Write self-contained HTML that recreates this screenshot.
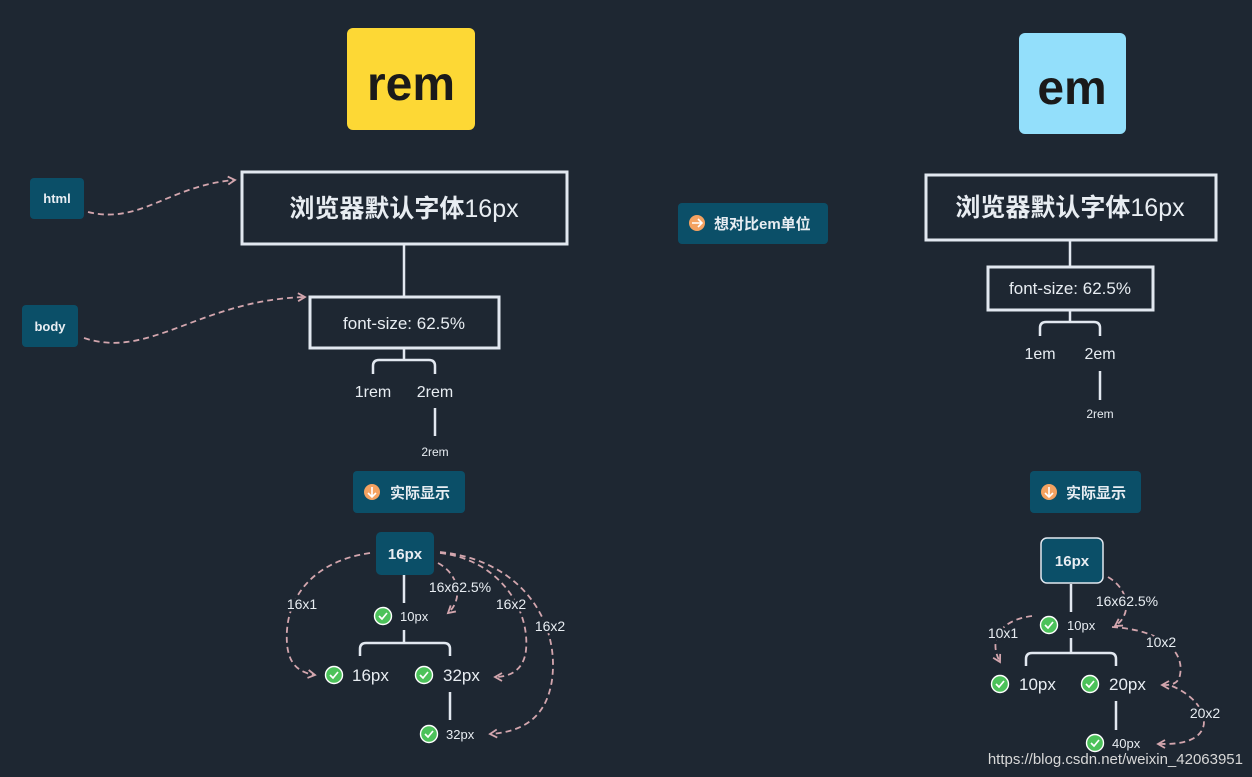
<!DOCTYPE html>
<html><head><meta charset="utf-8"><style>
html,body{margin:0;padding:0;background:#1e2732;}
svg{display:block}
text{font-family:"Liberation Sans","Noto Sans CJK SC",sans-serif;fill:#e8edf2}
.lb{paint-order:stroke;stroke:#1e2732;stroke-width:5px;stroke-linejoin:round}
.d{fill:none;stroke:#d3a6ae;stroke-width:1.8;stroke-dasharray:6 4}
.l{fill:none;stroke:#e2e8f0;stroke-width:2.5}
.b{fill:none;stroke:#e2e8f0;stroke-width:3}
</style></head><body>
<svg width="1252" height="777" viewBox="0 0 1252 777">
<defs>
<marker id="a" markerWidth="10" markerHeight="10" refX="8" refY="5" orient="auto" markerUnits="userSpaceOnUse"><path d="M1,1 L8,5 L1,9" fill="none" stroke="#d3a6ae" stroke-width="1.8"/></marker>
<g id="ck"><circle r="8.5" fill="#4cc25a" stroke="#fff" stroke-width="1.4"/><path d="M-4,0 L-1,3 L4,-3" fill="none" stroke="#fff" stroke-width="1.7"/></g>
</defs>
<rect width="1252" height="777" fill="#1e2732"/>
<rect x="347" y="28" width="128" height="102" rx="6" fill="#fdd835"/>
<text x="411" y="100" text-anchor="middle" font-size="48" font-weight="bold" style="fill:#1a1a1a">rem</text>
<rect x="1019" y="33" width="107" height="101" rx="6" fill="#93dffb"/>
<text x="1072" y="104" text-anchor="middle" font-size="48" font-weight="bold" style="fill:#1a1a1a">em</text>
<rect x="30" y="178" width="54" height="41" rx="4" fill="#0b4f68"/>
<text x="57" y="203" text-anchor="middle" font-size="13" font-weight="bold">html</text>
<rect x="22" y="305" width="56" height="42" rx="4" fill="#0b4f68"/>
<text x="50" y="331" text-anchor="middle" font-size="13" font-weight="bold">body</text>
<path class="d" d="M88,212 C140,225 170,185 235,180" marker-end="url(#a)"/>
<path class="d" d="M84,338 C150,360 200,300 305,297" marker-end="url(#a)"/>
<rect x="242" y="172" width="325" height="72" class="b"/>
<text x="404" y="217" text-anchor="middle" font-size="25"><tspan font-weight="bold">浏览器默认字体</tspan>16px</text>
<line class="l" x1="404" y1="245" x2="404" y2="297"/>
<rect x="310" y="297" width="189" height="51" class="b"/>
<text x="404" y="329" text-anchor="middle" font-size="17">font-size: 62.5%</text>
<line class="l" x1="404" y1="348" x2="404" y2="360"/>
<path class="l" d="M373,374 V366 Q373,360 379,360 H429 Q435,360 435,366 V374"/>
<text x="373" y="397" text-anchor="middle" font-size="16">1rem</text>
<text x="435" y="397" text-anchor="middle" font-size="16">2rem</text>
<line class="l" x1="435" y1="408" x2="435" y2="436"/>
<text x="435" y="456" text-anchor="middle" font-size="12">2rem</text>
<rect x="353" y="471" width="112" height="42" rx="4" fill="#0b4f68"/>
<circle cx="372" cy="492" r="8" fill="#f4a261"/><path d="M372,487 V497 M368,493 L372,497 L376,493" stroke="#fff" stroke-width="1.6" fill="none"/>
<text x="390" y="498" font-size="15" font-weight="bold">实际显示</text>
<rect x="376" y="532" width="58" height="43" rx="5" fill="#0b4f68"/>
<text x="405" y="559" text-anchor="middle" font-size="15" font-weight="bold">16px</text>
<line class="l" x1="404" y1="575" x2="404" y2="603"/>
<use href="#ck" x="383" y="616"/><text x="400" y="621" font-size="13">10px</text>
<line class="l" x1="404" y1="630" x2="404" y2="643"/>
<path class="l" d="M360,656 V649 Q360,643 366,643 H444 Q450,643 450,649 V656"/>
<use href="#ck" x="334" y="675"/><text x="352" y="681" font-size="17">16px</text>
<use href="#ck" x="424" y="675"/><text x="443" y="681" font-size="17">32px</text>
<line class="l" x1="450" y1="692" x2="450" y2="720"/>
<use href="#ck" x="429" y="734"/><text x="446" y="739" font-size="13">32px</text>
<path class="d" d="M370,553 C320,560 290,590 287,630 C285,660 295,672 315,675" marker-end="url(#a)"/>
<path class="d" d="M438,563 C460,575 463,600 448,613" marker-end="url(#a)"/>
<path class="d" d="M440,553 C500,560 530,610 526,650 C524,670 510,677 495,677" marker-end="url(#a)"/>
<path class="d" d="M440,552 C520,560 560,620 552,680 C546,720 520,732 490,734" marker-end="url(#a)"/>
<text class="lb" x="302" y="609" text-anchor="middle" font-size="14">16x1</text>
<text class="lb" x="460" y="592" text-anchor="middle" font-size="14">16x62.5%</text>
<text class="lb" x="511" y="609" text-anchor="middle" font-size="14">16x2</text>
<text class="lb" x="550" y="631" text-anchor="middle" font-size="14">16x2</text>
<rect x="678" y="203" width="150" height="41" rx="4" fill="#0b4f68"/>
<circle cx="697" cy="223" r="8" fill="#f4a261"/><path d="M692,223 H701 M698,219 L702,223 L698,227" stroke="#fff" stroke-width="1.6" fill="none"/>
<text x="714" y="229" font-size="15" font-weight="bold">想对比em单位</text>
<rect x="926" y="175" width="290" height="65" class="b"/>
<text x="1070" y="216" text-anchor="middle" font-size="25"><tspan font-weight="bold">浏览器默认字体</tspan>16px</text>
<line class="l" x1="1070" y1="241" x2="1070" y2="267"/>
<rect x="988" y="267" width="165" height="43" class="b"/>
<text x="1070" y="294" text-anchor="middle" font-size="17">font-size: 62.5%</text>
<line class="l" x1="1070" y1="310" x2="1070" y2="322"/>
<path class="l" d="M1040,336 V328 Q1040,322 1046,322 H1094 Q1100,322 1100,328 V336"/>
<text x="1040" y="359" text-anchor="middle" font-size="16">1em</text>
<text x="1100" y="359" text-anchor="middle" font-size="16">2em</text>
<line class="l" x1="1100" y1="371" x2="1100" y2="400"/>
<text x="1100" y="418" text-anchor="middle" font-size="12">2rem</text>
<rect x="1030" y="471" width="111" height="42" rx="4" fill="#0b4f68"/>
<circle cx="1049" cy="492" r="8" fill="#f4a261"/><path d="M1049,487 V497 M1045,493 L1049,497 L1053,493" stroke="#fff" stroke-width="1.6" fill="none"/>
<text x="1066" y="498" font-size="15" font-weight="bold">实际显示</text>
<rect x="1041" y="538" width="62" height="45" rx="6" fill="#0b4f68" stroke="#e2e8f0" stroke-width="1.5"/>
<text x="1072" y="566" text-anchor="middle" font-size="15" font-weight="bold">16px</text>
<line class="l" x1="1071" y1="584" x2="1071" y2="612"/>
<use href="#ck" x="1049" y="625"/><text x="1067" y="630" font-size="13">10px</text>
<line class="l" x1="1071" y1="638" x2="1071" y2="653"/>
<path class="l" d="M1026,666 V659 Q1026,653 1032,653 H1110 Q1116,653 1116,659 V666"/>
<use href="#ck" x="1000" y="684"/><text x="1019" y="690" font-size="17">10px</text>
<use href="#ck" x="1090" y="684"/><text x="1109" y="690" font-size="17">20px</text>
<line class="l" x1="1116" y1="701" x2="1116" y2="730"/>
<use href="#ck" x="1095" y="743"/><text x="1112" y="748" font-size="13">40px</text>
<path class="d" d="M1108,577 C1130,590 1132,615 1115,626" marker-end="url(#a)"/>
<path class="d" d="M1032,616 C1000,620 988,640 1000,662" marker-end="url(#a)"/>
<path class="d" d="M1112,627 C1160,630 1185,650 1180,675 C1178,685 1170,685 1162,685" marker-end="url(#a)"/>
<path class="d" d="M1172,686 C1205,700 1215,730 1190,740 C1180,744 1170,744 1158,744" marker-end="url(#a)"/>
<text class="lb" x="1127" y="606" text-anchor="middle" font-size="14">16x62.5%</text>
<text class="lb" x="1003" y="638" text-anchor="middle" font-size="14">10x1</text>
<text class="lb" x="1161" y="647" text-anchor="middle" font-size="14">10x2</text>
<text class="lb" x="1205" y="718" text-anchor="middle" font-size="14">20x2</text>
<text x="1243" y="764" text-anchor="end" font-size="15" style="fill:#d8d8d8">https://blog.csdn.net/weixin_42063951</text>
</svg>
</body></html>
